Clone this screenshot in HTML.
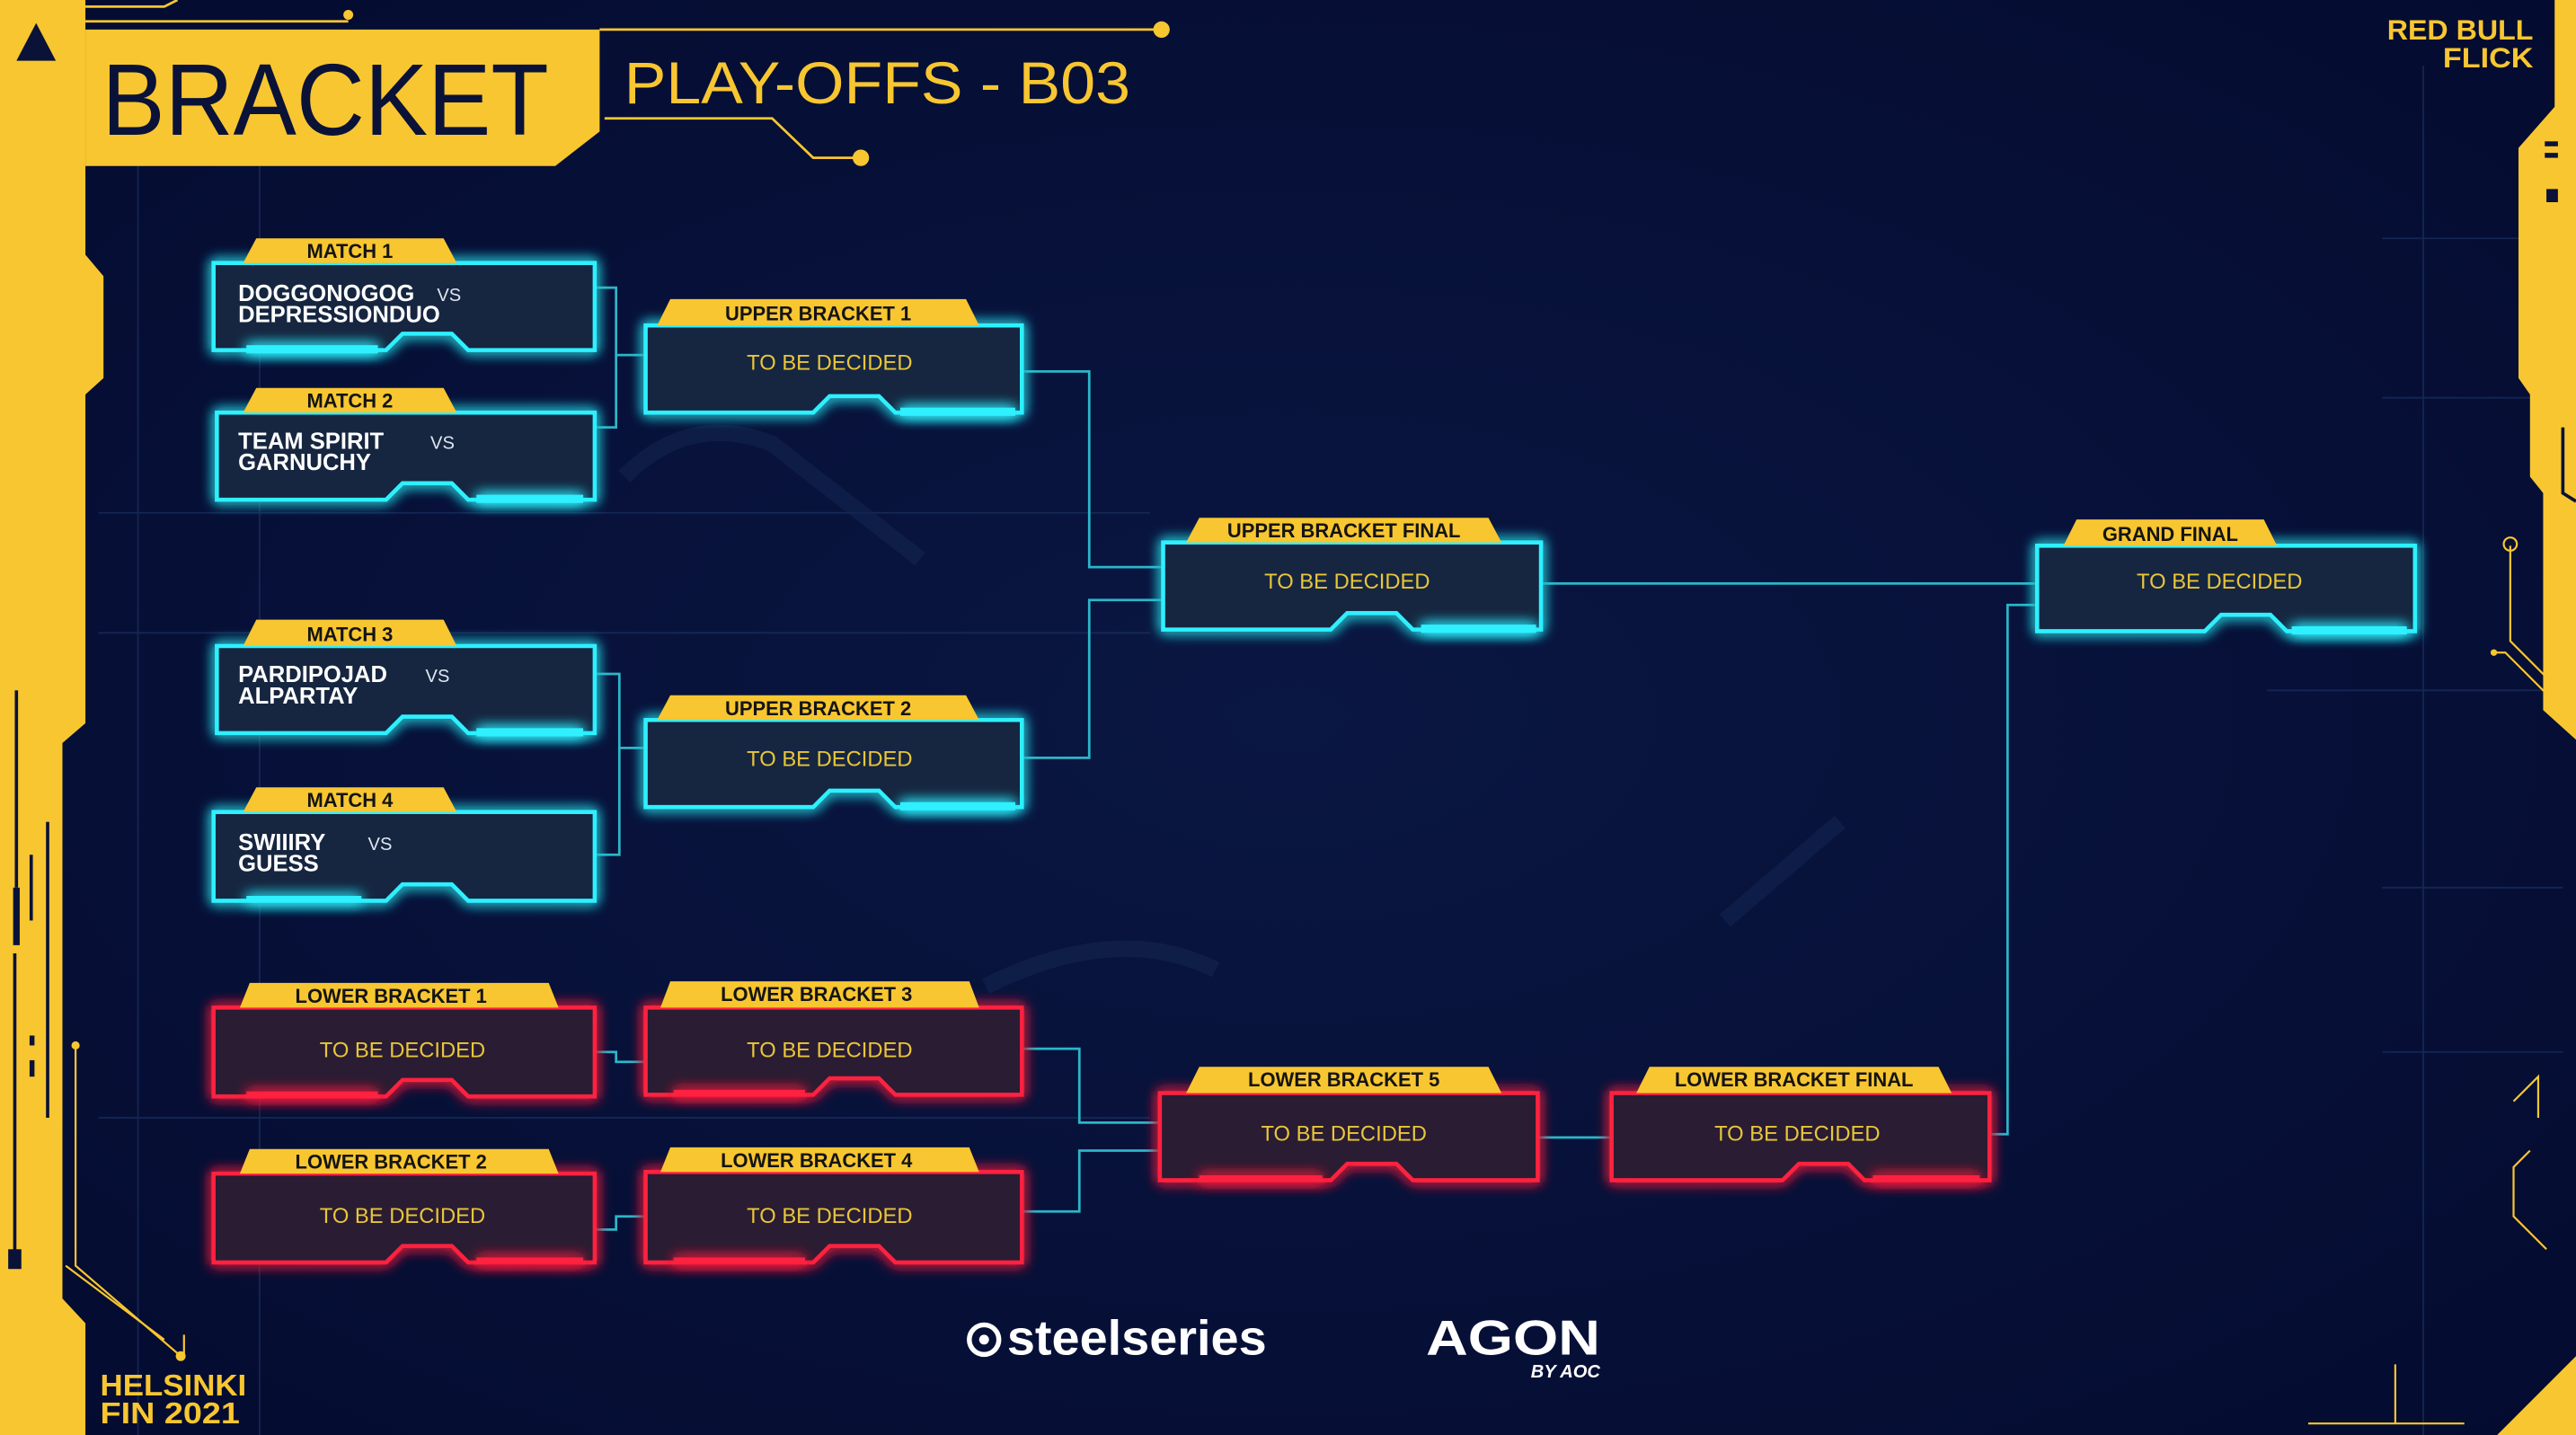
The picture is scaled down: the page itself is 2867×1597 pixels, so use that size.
<!DOCTYPE html>
<html><head><meta charset="utf-8"><style>
html,body{margin:0;padding:0;background:#050d33;}
svg{display:block}
text{font-family:"Liberation Sans",sans-serif;}
</style></head><body>
<svg width="2867" height="1597" viewBox="0 0 1568 873" preserveAspectRatio="none" xmlns="http://www.w3.org/2000/svg">
<defs>
<filter id="gc" x="-20%" y="-40%" width="140%" height="180%"><feGaussianBlur stdDeviation="4" result="b"/><feMerge><feMergeNode in="b"/><feMergeNode in="b"/><feMergeNode in="SourceGraphic"/></feMerge></filter>
<radialGradient id="bg" cx="50%" cy="50%" r="70%"><stop offset="0" stop-color="#0a1742"/><stop offset="1" stop-color="#040b30"/></radialGradient>
</defs>
<rect width="1568" height="873" fill="url(#bg)"/>
<g stroke="#1b3060" stroke-width="1" opacity="0.7">
<line x1="84" y1="100" x2="84" y2="873"/><line x1="158" y1="100" x2="158" y2="873"/>
<line x1="1475" y1="40" x2="1475" y2="873"/><line x1="60" y1="312" x2="700" y2="312"/>
<line x1="60" y1="385" x2="700" y2="385"/><line x1="60" y1="680" x2="700" y2="680"/>
<line x1="1450" y1="145" x2="1560" y2="145"/><line x1="1450" y1="242" x2="1560" y2="242"/>
<line x1="1450" y1="540" x2="1560" y2="540"/><line x1="1450" y1="640" x2="1560" y2="640"/>
<line x1="1380" y1="420" x2="1560" y2="420"/>
</g>
<g stroke="#13244f" stroke-width="10" fill="none" opacity="0.6">
<path d="M380 290 Q420 250 470 270 L560 340"/><path d="M600 600 Q680 560 740 590"/><path d="M1050 560 L1120 500"/>
</g>
<path d="M0 0 H52 V155 L63 168 V230 L52 240 V440 L38 452 V790 L52 805 V873 H0 Z" fill="#f8c630"/>
<polygon points="10,37 22,14 34,37" fill="#0a1238"/>
<g fill="#0a1238"><rect x="9" y="420" width="2" height="120"/><rect x="8" y="540" width="4" height="35"/><rect x="8" y="580" width="2" height="190"/><rect x="5" y="760" width="8" height="12"/><rect x="18" y="520" width="2" height="40"/><rect x="18" y="630" width="3" height="6"/><rect x="18" y="645" width="3" height="10"/><rect x="28" y="500" width="2" height="180"/></g>
<g stroke="#f8c630" fill="none" stroke-width="1.2"><path d="M46 636 V770 L110 825"/><path d="M40 770 L100 815"/><path d="M112 812 V825"/></g>
<circle cx="46" cy="636" r="2.5" fill="#f8c630"/><circle cx="110" cy="825" r="3" fill="#f8c630"/>
<path d="M1568 0 V873 H1520 L1568 825 Z" fill="#f8c630"/>
<path d="M1555 0 H1568 V450 L1548 432 V300 L1540 290 V240 L1533 230 V90 L1555 65 Z" fill="#f8c630"/>
<path d="M1560 260 V300 L1568 305" stroke="#0a1238" stroke-width="2" fill="none"/>
<g fill="#0a1238"><rect x="1549" y="86" width="8" height="3"/><rect x="1549" y="93" width="8" height="3"/><rect x="1550" y="115" width="7" height="8"/></g>
<g stroke="#f8c630" fill="none" stroke-width="1.2"><path d="M1528 332 V390 L1568 430"/><path d="M1518 397 L1525 397 L1568 440"/><path d="M1530 670 L1545 655 V680 M1540 700 L1530 710 V740 L1550 760"/><path d="M1405 866 H1500 M1458 830 V866"/></g>
<circle cx="1528" cy="331" r="4" fill="none" stroke="#f8c630" stroke-width="1.2"/><circle cx="1518" cy="397" r="2" fill="#f8c630"/>
<path d="M52 18 H365 V80 L338 101 H52 Z" fill="#f8c630"/>
<text x="62" y="82" font-size="62" fill="#0a1238" textLength="272" lengthAdjust="spacingAndGlyphs">BRACKET</text>
<text x="380" y="63" font-size="36" fill="#f8c630" textLength="308" lengthAdjust="spacingAndGlyphs">PLAY-OFFS - B03</text>
<g stroke="#f8c630" stroke-width="1.5" fill="none"><path d="M365 18 H707"/><path d="M368 72 H470 L495 96 H524"/><path d="M52 13 H212"/><path d="M52 4 H100 L108 0"/></g>
<circle cx="707" cy="18" r="5" fill="#f8c630"/><circle cx="524" cy="96" r="5" fill="#f8c630"/><circle cx="212" cy="9" r="3" fill="#f8c630"/>
<text x="1542" y="24" font-size="17" font-weight="bold" fill="#f8c630" text-anchor="end" textLength="89" lengthAdjust="spacingAndGlyphs">RED BULL</text>
<text x="1542" y="41" font-size="17" font-weight="bold" fill="#f8c630" text-anchor="end" textLength="55" lengthAdjust="spacingAndGlyphs">FLICK</text>
<text x="61" y="849" font-size="18" font-weight="bold" fill="#f8c630" textLength="89" lengthAdjust="spacingAndGlyphs">HELSINKI</text>
<text x="61" y="866" font-size="18" font-weight="bold" fill="#f8c630" textLength="85" lengthAdjust="spacingAndGlyphs">FIN 2021</text>
<g stroke="#2bb6c8" stroke-width="1.5" fill="none">
<path d="M362 175 H375 V216 H393"/><path d="M362 260 H375 V216"/>
<path d="M362 410 H377 V455 H393"/><path d="M362 520 H377 V455"/>
<path d="M622 226 H663 V345 H708"/><path d="M622 461 H663 V365 H708"/>
<path d="M938 355 H1240"/><path d="M1211 690 H1222 V368 H1240"/>
<path d="M362 640 H375 V646 H393"/><path d="M362 748 H375 V740 H393"/>
<path d="M622 638 H657 V683 H706"/><path d="M622 737 H657 V700 H706"/>
<path d="M936 692 H981"/>
</g>
<g stroke="#2ef0ff" stroke-width="2.5" fill="#16263f" filter="url(#gc)">
<path d="M130 160 H362 V213 H285 L275 203 H245 L235 213 H130 Z"/>
<path d="M132 251 H362 V304 H285 L275 294 H245 L235 304 H132 Z"/>
<path d="M132 393 H362 V446 H285 L275 436 H245 L235 446 H132 Z"/>
<path d="M130 494 H362 V548 H285 L275 538 H245 L235 548 H130 Z"/>
<path d="M393 198 H622 V251 H545 L535 241 H505 L495 251 H393 Z"/>
<path d="M393 438 H622 V491 H545 L535 481 H505 L495 491 H393 Z"/>
<path d="M708 330 H938 V383 H860 L850 373 H820 L810 383 H708 Z"/>
<path d="M1240 332 H1470 V384 H1392 L1382 374 H1352 L1342 384 H1240 Z"/>
</g>
<g fill="#2ef0ff" filter="url(#gc)">
<rect x="150" y="210" width="80" height="5"/><rect x="290" y="301" width="65" height="5"/><rect x="290" y="443" width="65" height="5"/><rect x="150" y="545" width="70" height="4"/>
<rect x="548" y="248" width="70" height="5"/><rect x="548" y="488" width="70" height="5"/><rect x="865" y="380" width="70" height="5"/><rect x="1395" y="381" width="70" height="5"/>
</g>
<g stroke="#ff2040" stroke-width="2.5" fill="#2b1c32" filter="url(#gc)">
<path d="M130 613 H362 V667 H285 L275 657 H245 L235 667 H130 Z"/>
<path d="M130 714 H362 V768 H285 L275 758 H245 L235 768 H130 Z"/>
<path d="M393 613 H622 V666 H545 L535 656 H505 L495 666 H393 Z"/>
<path d="M393 713 H622 V768 H545 L535 758 H505 L495 768 H393 Z"/>
<path d="M706 665 H936 V718 H860 L850 708 H820 L810 718 H706 Z"/>
<path d="M981 665 H1211 V718 H1135 L1125 708 H1095 L1085 718 H981 Z"/>
</g>
<g fill="#ff2040" filter="url(#gc)">
<rect x="150" y="664" width="80" height="4"/><rect x="290" y="765" width="65" height="4"/><rect x="410" y="663" width="80" height="4"/><rect x="410" y="765" width="80" height="4"/><rect x="730" y="715" width="75" height="4"/><rect x="1140" y="715" width="65" height="4"/>
</g>
<g fill="#f8c630">
<path d="M148 160 L156 145 H270 L278 160 Z"/><path d="M148 251 L156 236 H270 L278 251 Z"/>
<path d="M148 393 L156 377 H270 L278 393 Z"/><path d="M148 494 L156 479 H270 L278 494 Z"/>
<path d="M400 198 L408 182 H588 L596 198 Z"/><path d="M400 438 L408 423 H588 L596 438 Z"/>
<path d="M722 330 L730 315 H906 L914 330 Z"/><path d="M1256 332 L1264 316 H1378 L1386 332 Z"/>
<path d="M146 613 L152 598 H334 L340 613 Z"/><path d="M146 714 L152 699 H334 L340 714 Z"/>
<path d="M402 613 L408 597 H590 L596 613 Z"/><path d="M402 713 L408 698 H590 L596 713 Z"/>
<path d="M722 665 L730 649 H906 L914 665 Z"/><path d="M996 665 L1004 649 H1180 L1188 665 Z"/>
</g>
<g font-size="12" font-weight="bold" fill="#141414" text-anchor="middle">
<text x="213" y="157">MATCH 1</text><text x="213" y="248">MATCH 2</text><text x="213" y="390">MATCH 3</text><text x="213" y="491">MATCH 4</text>
<text x="498" y="195">UPPER BRACKET 1</text><text x="498" y="435">UPPER BRACKET 2</text>
<text x="818" y="327">UPPER BRACKET FINAL</text><text x="1321" y="329">GRAND FINAL</text>
<text x="238" y="610">LOWER BRACKET 1</text><text x="238" y="711">LOWER BRACKET 2</text>
<text x="497" y="609">LOWER BRACKET 3</text><text x="497" y="710">LOWER BRACKET 4</text>
<text x="818" y="661">LOWER BRACKET 5</text><text x="1092" y="661">LOWER BRACKET FINAL</text>
</g>
<g font-size="14" font-weight="bold" fill="#ffffff">
<text x="145" y="183">DOGGONOGOG</text><text x="145" y="196">DEPRESSIONDUO</text>
<text x="145" y="273">TEAM SPIRIT</text><text x="145" y="286">GARNUCHY</text>
<text x="145" y="415">PARDIPOJAD</text><text x="145" y="428">ALPARTAY</text>
<text x="145" y="517">SWIIIRY</text><text x="145" y="530">GUESS</text>
</g>
<g font-size="11" fill="#dfe6f0">
<text x="266" y="183">VS</text><text x="262" y="273">VS</text><text x="259" y="415">VS</text><text x="224" y="517">VS</text>
</g>
<g font-size="13" fill="#e8c63a" text-anchor="middle">
<text x="505" y="225">TO BE DECIDED</text><text x="505" y="466">TO BE DECIDED</text>
<text x="820" y="358">TO BE DECIDED</text><text x="1351" y="358">TO BE DECIDED</text>
<text x="245" y="643">TO BE DECIDED</text><text x="245" y="744">TO BE DECIDED</text>
<text x="505" y="643">TO BE DECIDED</text><text x="505" y="744">TO BE DECIDED</text>
<text x="818" y="694">TO BE DECIDED</text><text x="1094" y="694">TO BE DECIDED</text>
</g>
<circle cx="599" cy="815" r="9" fill="none" stroke="#fff" stroke-width="3"/><circle cx="599" cy="815" r="3" fill="#fff"/>
<text x="613" y="824" font-size="30" font-weight="bold" fill="#ffffff" textLength="158" lengthAdjust="spacingAndGlyphs">steelseries</text>
<text x="868" y="824" font-size="30" font-weight="bold" fill="#ffffff" textLength="106" lengthAdjust="spacingAndGlyphs">AGON</text>
<text x="974" y="838" font-size="11" font-weight="bold" font-style="italic" fill="#ffffff" text-anchor="end">BY AOC</text>
</svg>
</body></html>
